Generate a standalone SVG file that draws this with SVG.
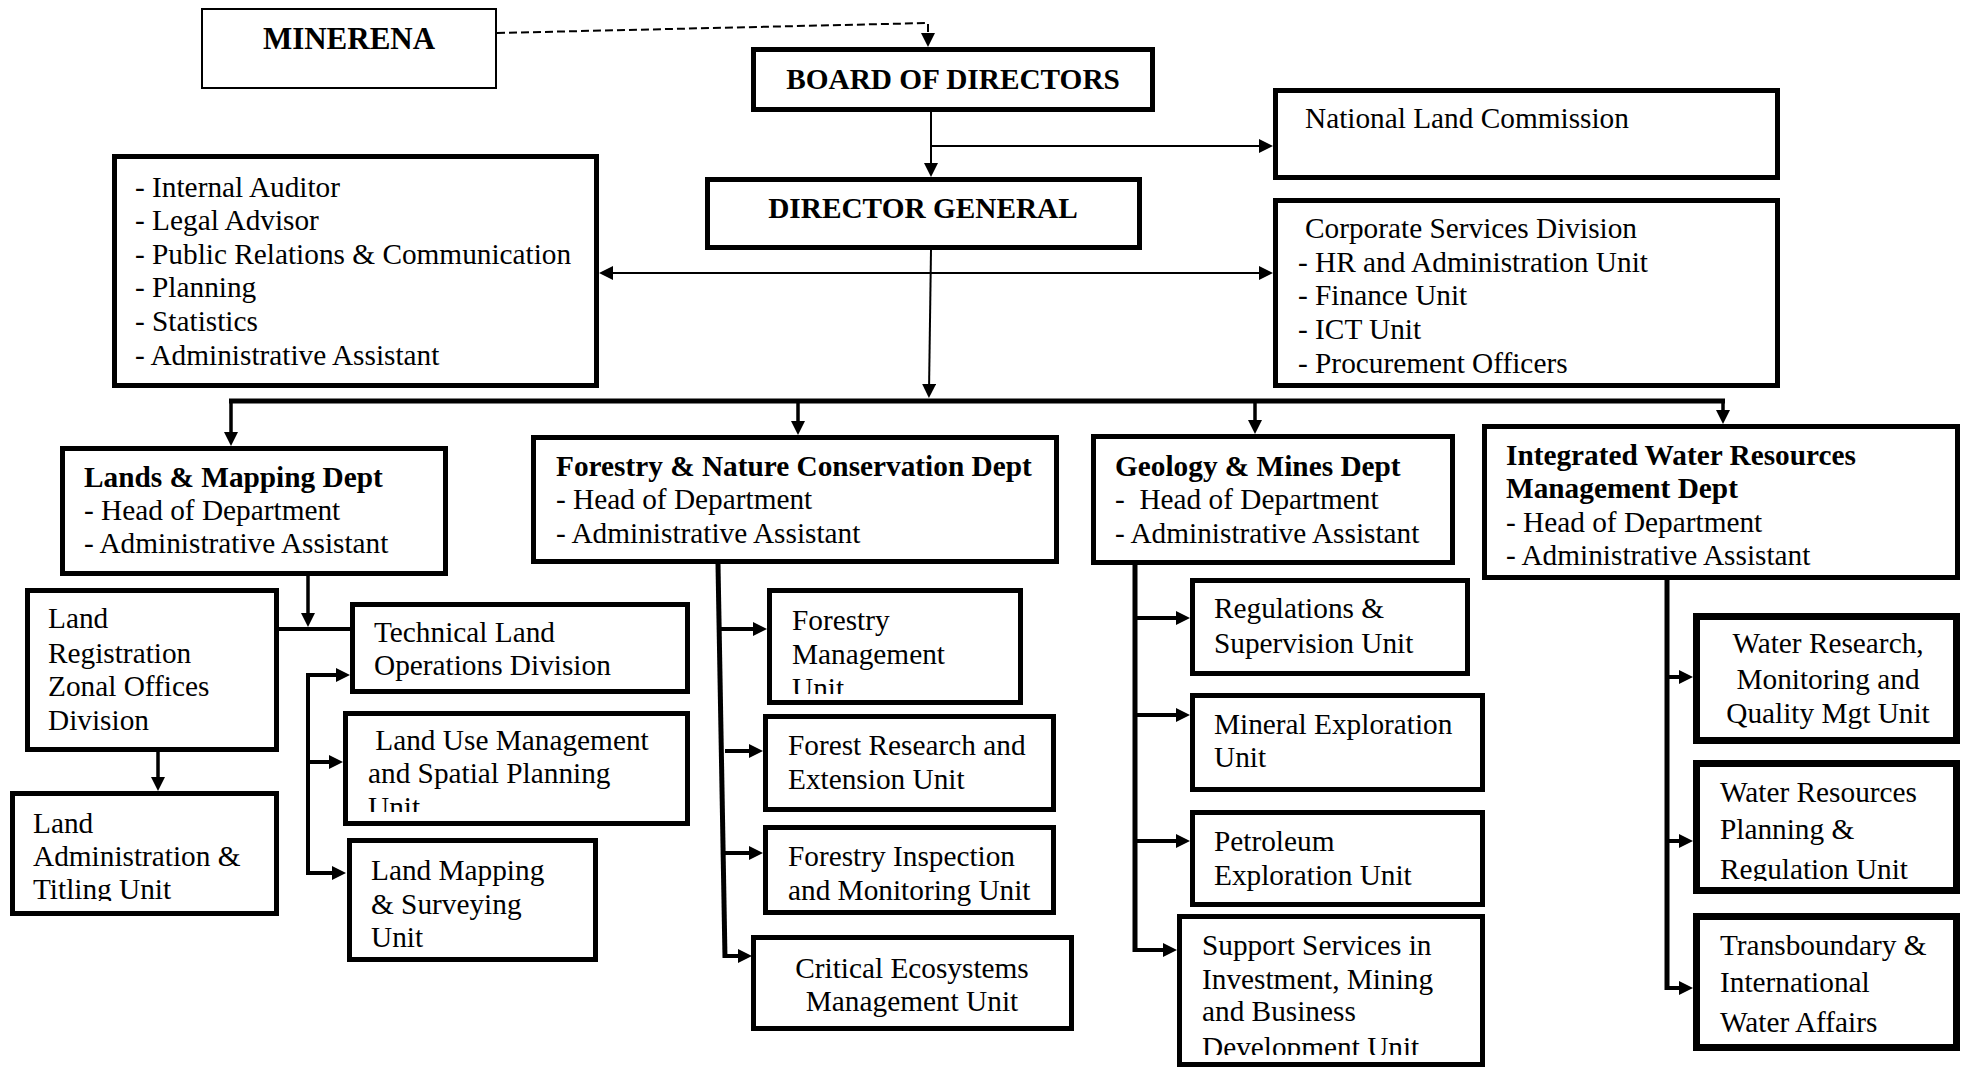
<svg xmlns="http://www.w3.org/2000/svg" width="1968" height="1067" viewBox="0 0 1968 1067">
<style>
.box{fill:#fff;stroke:#000;stroke-width:5}
.thin{stroke-width:2}
.w7{stroke-width:7}
text{font-family:"Liberation Serif","Times New Roman",serif;font-size:29.3px;fill:#000;white-space:pre}
.b{font-weight:bold}
.c{text-anchor:middle}
.cn{stroke:#000;fill:none}
.s2{stroke-width:2}
.s3{stroke-width:3.5}
.s4{stroke-width:4}
.s5{stroke-width:5}
.dash{stroke-dasharray:8 4}
</style>
<defs>
<marker id="ah" viewBox="0 0 14 14" refX="8" refY="7" markerWidth="14" markerHeight="14" markerUnits="userSpaceOnUse" orient="auto-start-reverse"><path d="M0,0 L14,7 L0,14 z" fill="#000"/></marker>
<clipPath id="cLUM"><rect x="343" y="700" width="350" height="112"/></clipPath>
<clipPath id="cFMU"><rect x="767" y="580" width="260" height="114"/></clipPath>
<clipPath id="cLAT"><rect x="10" y="780" width="270" height="121"/></clipPath>
<clipPath id="cSSI"><rect x="1177" y="910" width="310" height="145"/></clipPath>
<clipPath id="cWRP"><rect x="1693" y="750" width="270" height="131"/></clipPath>
</defs>
<rect width="1968" height="1067" fill="#fff"/>

<g id="connectors">
<path class="cn s2 dash" d="M497,33 L928,23 L928,41" marker-end="url(#ah)"/>
<path class="cn s2" d="M931,112 L931,171" marker-end="url(#ah)"/>
<path class="cn s2" d="M931,146 L1267,146" marker-end="url(#ah)"/>
<path class="cn s2" d="M931,250 L929,392" marker-end="url(#ah)"/>
<path class="cn s2" d="M605,273 L1267,273" marker-start="url(#ah)" marker-end="url(#ah)"/>
<path class="cn s5" d="M229,401 L1725,401"/>
<path class="cn s3" d="M231,401 L231,440" marker-end="url(#ah)"/>
<path class="cn s3" d="M798,401 L798,429" marker-end="url(#ah)"/>
<path class="cn s3" d="M1255,401 L1255,428" marker-end="url(#ah)"/>
<path class="cn s3" d="M1723,401 L1723,418" marker-end="url(#ah)"/>
<path class="cn s3" d="M308,576 L308,621" marker-end="url(#ah)"/>
<path class="cn s4" d="M279,629 L350,629"/>
<path class="cn s4" d="M308,673 L308,875"/>
<path class="cn s4" d="M306,675 L344,675" marker-end="url(#ah)"/>
<path class="cn s4" d="M308,762 L337,762" marker-end="url(#ah)"/>
<path class="cn s4" d="M306,873 L340,873" marker-end="url(#ah)"/>
<path class="cn s3" d="M158,752 L158,785" marker-end="url(#ah)"/>
<path class="cn s5" d="M718,564 L725,958"/>
<path class="cn s4" d="M720,629 L761,629" marker-end="url(#ah)"/>
<path class="cn s4" d="M725,751 L757,751" marker-end="url(#ah)"/>
<path class="cn s4" d="M723,853 L757,853" marker-end="url(#ah)"/>
<path class="cn s4" d="M723,956 L746,956" marker-end="url(#ah)"/>
<path class="cn s5" d="M1135,565 L1135,952"/>
<path class="cn s4" d="M1135,618 L1184,618" marker-end="url(#ah)"/>
<path class="cn s4" d="M1135,715 L1184,715" marker-end="url(#ah)"/>
<path class="cn s4" d="M1135,841 L1184,841" marker-end="url(#ah)"/>
<path class="cn s4" d="M1133,950 L1171,950" marker-end="url(#ah)"/>
<path class="cn s5" d="M1667,580 L1667,990"/>
<path class="cn s4" d="M1667,677 L1687,677" marker-end="url(#ah)"/>
<path class="cn s4" d="M1667,841 L1687,841" marker-end="url(#ah)"/>
<path class="cn s4" d="M1665,988 L1687,988" marker-end="url(#ah)"/>
</g>

<g id="minerena"><rect class="box thin" x="202" y="9" width="294" height="79"/><text class="b c" x="349" y="49" style="font-size:31px">MINERENA</text></g>
<g id="board"><rect class="box" x="753.5" y="49.5" width="399" height="60"/><text class="b c" x="953" y="89">BOARD OF DIRECTORS</text></g>
<g id="nlc"><rect class="box" x="1275.5" y="90.5" width="502" height="87"/><text x="1305" y="128">National Land Commission</text></g>
<g id="dg"><rect class="box" x="707.5" y="179.5" width="432" height="68"/><text class="b c" x="923" y="218">DIRECTOR GENERAL</text></g>
<g id="internal"><rect class="box" x="114.5" y="156.5" width="482" height="229"/>
<text x="135" y="197">- Internal Auditor</text>
<text x="135" y="230">- Legal Advisor</text>
<text x="135" y="264">- Public Relations &amp; Communication</text>
<text x="135" y="297">- Planning</text>
<text x="135" y="331">- Statistics</text>
<text x="135" y="365">- Administrative Assistant</text></g>
<g id="corporate"><rect class="box" x="1275.5" y="200.5" width="502" height="185"/>
<text x="1305" y="238">Corporate Services Division</text>
<text x="1298" y="272">- HR and Administration Unit</text>
<text x="1298" y="305">- Finance Unit</text>
<text x="1298" y="339">- ICT Unit</text>
<text x="1298" y="373">- Procurement Officers</text></g>

<g id="lands"><rect class="box" x="62.5" y="448.5" width="383" height="125"/>
<text class="b" x="84" y="487">Lands &amp; Mapping Dept</text>
<text x="84" y="520">- Head of Department</text>
<text x="84" y="553">- Administrative Assistant</text></g>
<g id="forestry"><rect class="box" x="533.5" y="437.5" width="523" height="124"/>
<text class="b" x="556" y="476">Forestry &amp; Nature Conservation Dept</text>
<text x="556" y="509">- Head of Department</text>
<text x="556" y="543">- Administrative Assistant</text></g>
<g id="geology"><rect class="box" x="1093.5" y="436.5" width="359" height="126"/>
<text class="b" x="1115" y="476">Geology &amp; Mines Dept</text>
<text x="1115" y="509">-  Head of Department</text>
<text x="1115" y="543">- Administrative Assistant</text></g>
<g id="iwrm"><rect class="box" x="1484.5" y="426.5" width="473" height="151"/>
<text class="b" x="1506" y="465">Integrated Water Resources</text>
<text class="b" x="1506" y="498">Management Dept</text>
<text x="1506" y="532">- Head of Department</text>
<text x="1506" y="565">- Administrative Assistant</text></g>

<g id="lrzo"><rect class="box" x="27.5" y="590.5" width="249" height="159"/>
<text x="48" y="628">Land</text>
<text x="48" y="663">Registration</text>
<text x="48" y="696">Zonal Offices</text>
<text x="48" y="730">Division</text></g>
<g id="tlod"><rect class="box" x="352.5" y="604.5" width="335" height="87"/>
<text x="374" y="642">Technical Land</text>
<text x="374" y="675">Operations Division</text></g>
<g id="lum"><rect class="box" x="345.5" y="713.5" width="342" height="110"/>
<g clip-path="url(#cLUM)"><text x="368" y="750"> Land Use Management</text>
<text x="368" y="783">and Spatial Planning</text>
<text x="368" y="817">Unit</text></g></g>
<g id="lms"><rect class="box" x="349.5" y="840.5" width="246" height="119"/>
<text x="371" y="880">Land Mapping</text>
<text x="371" y="914">&amp; Surveying</text>
<text x="371" y="947">Unit</text></g>
<g id="lat"><rect class="box" x="12.5" y="793.5" width="264" height="120"/>
<g clip-path="url(#cLAT)"><text x="33" y="833">Land</text>
<text x="33" y="866">Administration &amp;</text>
<text x="33" y="899">Titling Unit</text></g></g>

<g id="fmu"><rect class="box" x="769.5" y="590.5" width="251" height="112"/>
<g clip-path="url(#cFMU)"><text x="792" y="630">Forestry</text>
<text x="792" y="664">Management</text>
<text x="792" y="698">Unit</text></g></g>
<g id="fre"><rect class="box" x="765.5" y="716.5" width="288" height="93"/>
<text x="788" y="755">Forest Research and</text>
<text x="788" y="789">Extension Unit</text></g>
<g id="fimu"><rect class="box" x="765.5" y="827.5" width="288" height="85"/>
<text x="788" y="866">Forestry Inspection</text>
<text x="788" y="900">and Monitoring Unit</text></g>
<g id="cemu"><rect class="box" x="753.5" y="937.5" width="318" height="91"/>
<text class="c" x="912" y="978">Critical Ecosystems</text>
<text class="c" x="912" y="1011">Management Unit</text></g>

<g id="rsu"><rect class="box" x="1192.5" y="580.5" width="275" height="93"/>
<text x="1214" y="618">Regulations &amp;</text>
<text x="1214" y="653">Supervision Unit</text></g>
<g id="meu"><rect class="box" x="1192.5" y="695.5" width="290" height="94"/>
<text x="1214" y="734">Mineral Exploration</text>
<text x="1214" y="767">Unit</text></g>
<g id="peu"><rect class="box" x="1192.5" y="812.5" width="290" height="92"/>
<text x="1214" y="851">Petroleum</text>
<text x="1214" y="885">Exploration Unit</text></g>
<g id="ssi"><rect class="box" x="1179.5" y="916.5" width="303" height="148"/>
<g clip-path="url(#cSSI)"><text x="1202" y="955">Support Services in</text>
<text x="1202" y="989">Investment, Mining</text>
<text x="1202" y="1021">and Business</text>
<text x="1202" y="1057">Development Unit</text></g></g>

<g id="wrmq"><rect class="box w7" x="1696.5" y="616.5" width="260" height="124"/>
<text class="c" x="1828" y="653">Water Research,</text>
<text class="c" x="1828" y="689">Monitoring and</text>
<text class="c" x="1828" y="723">Quality Mgt Unit</text></g>
<g id="wrp"><rect class="box w7" x="1696.5" y="763.5" width="260" height="127"/>
<g clip-path="url(#cWRP)"><text x="1720" y="802">Water Resources</text>
<text x="1720" y="839">Planning &amp;</text>
<text x="1720" y="879">Regulation Unit</text></g></g>
<g id="tiwa"><rect class="box w7" x="1696.5" y="916.5" width="260" height="131"/>
<text x="1720" y="955">Transboundary &amp;</text>
<text x="1720" y="992">International</text>
<text x="1720" y="1032">Water Affairs</text></g>
</svg>
